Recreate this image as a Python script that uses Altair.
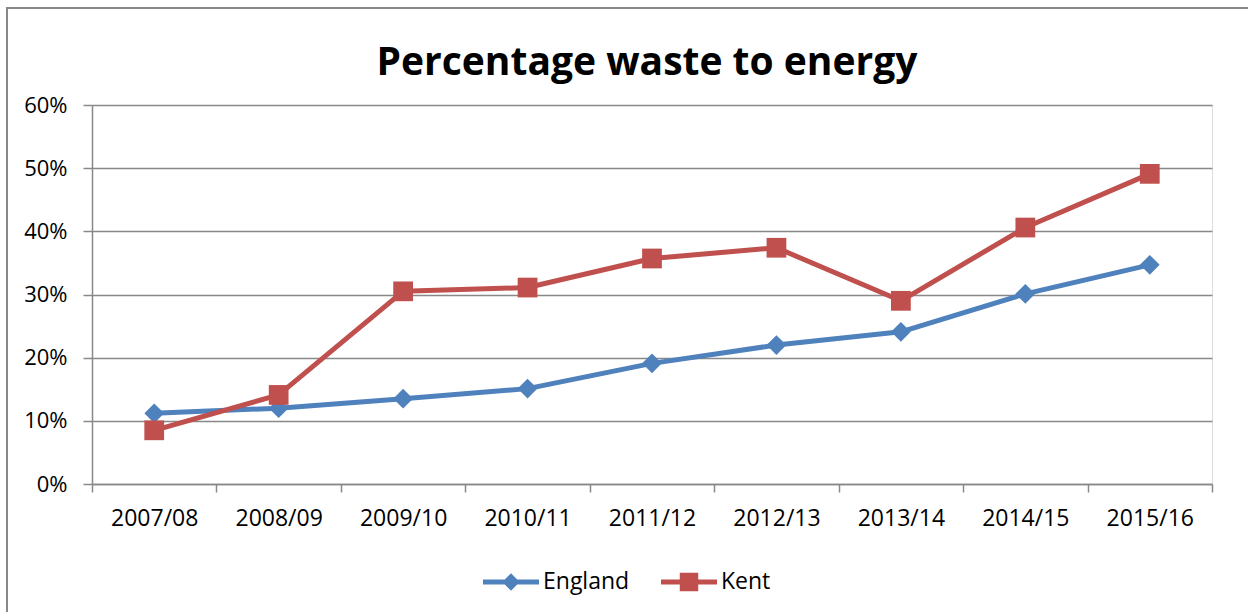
import altair as alt
import pandas as pd

# Financial years on the category axis
years = ["2007/08", "2008/09", "2009/10", "2010/11", "2011/12",
         "2012/13", "2013/14", "2014/15", "2015/16"]

# Share of municipal waste sent to energy recovery (fraction)
england = [0.112, 0.120, 0.135, 0.151, 0.191, 0.220, 0.241, 0.301, 0.347]
kent = [0.085, 0.141, 0.305, 0.311, 0.357, 0.374, 0.290, 0.406, 0.491]

series_names = ["England", "Kent"]
series_colors = ["#4F81BD", "#C0504D"]

FONT = "Open Sans"
GRID = "#888888"

df = pd.DataFrame({
    "year": years * 2,
    "series": ["England"] * len(years) + ["Kent"] * len(years),
    "value": england + kent,
})

is_england = "datum.series === 'England'"

x_enc = alt.X(
    "year:N",
    sort=years,
    scale=alt.Scale(type="band", paddingInner=0, paddingOuter=0),
    axis=alt.Axis(
        title=None, labelAngle=0, tickBand="extent", tickSize=8,
        tickColor=GRID, tickWidth=1.5, domainColor=GRID, domainWidth=1.5,
        labelFont=FONT, labelFontSize=23, labelColor="black",
        labelPadding=15, grid=False,
    ),
)
y_enc = alt.Y(
    "value:Q",
    scale=alt.Scale(domain=[0, 0.6], nice=False, zero=True),
    axis=alt.Axis(
        title=None, values=[0, 0.1, 0.2, 0.3, 0.4, 0.5, 0.6], format=".0%",
        grid=True, gridColor=GRID, gridWidth=1.5, tickSize=9,
        tickColor=GRID, tickWidth=1.5, domainColor=GRID, domainWidth=1.5,
        labelFont=FONT, labelFontSize=22, labelColor="black", labelPadding=16,
    ),
)

base = alt.Chart(df)

lines = base.mark_line(strokeWidth=5, strokeJoin="round", strokeCap="round").encode(
    x=x_enc,
    y=y_enc,
    detail="series:N",
    color=alt.condition(is_england, alt.value(series_colors[0]), alt.value(series_colors[1])),
)

markers = base.mark_point(filled=True, opacity=1, size=390).encode(
    x=x_enc,
    y=y_enc,
    shape=alt.condition(is_england, alt.value("diamond"), alt.value("square")),
    color=alt.condition(is_england, alt.value(series_colors[0]), alt.value(series_colors[1])),
)

# Legend glyphs: a line segment with the series marker on it
england_glyph = ("M-1,-0.09 L1,-0.09 L1,0.09 L-1,0.09 Z "
                 "M0,-0.31 L0.31,0 L0,0.31 L-0.31,0 Z")
kent_glyph = ("M-1,-0.09 L1,-0.09 L1,0.09 L-1,0.09 Z "
              "M-0.33,-0.33 L0.33,-0.33 L0.33,0.33 L-0.33,0.33 Z")

legend_layer = base.transform_filter("false").mark_point(
    filled=True, opacity=1, size=3136, strokeWidth=0
).encode(
    color=alt.Color(
        "series:N",
        scale=alt.Scale(domain=series_names, range=series_colors),
        legend=alt.Legend(
            title=None, orient="none", direction="horizontal",
            legendX=391, legendY=449, symbolSize=3136, symbolStrokeWidth=0,
            symbolOpacity=1, labelFont=FONT, labelFontSize=23,
            labelColor="black", labelOffset=4, columnPadding=31, padding=0,
        ),
    ),
    shape=alt.Shape(
        "series:N",
        scale=alt.Scale(domain=series_names, range=[england_glyph, kent_glyph]),
    ),
)

# Outer frame of the chart
frame = alt.Chart(pd.DataFrame({"k": [0]})).mark_rect(
    fill=None, stroke=GRID, strokeWidth=2
).encode(
    x=alt.value(-85), x2=alt.value(1170),
    y=alt.value(-97), y2=alt.value(520),
)

chart = alt.layer(frame, lines, markers, legend_layer).properties(
    width=1120,
    height=379,
    title=alt.Title(
        "Percentage waste to energy", font=FONT, fontSize=39,
        fontWeight="bold", color="black", anchor="middle", frame="group",
        baseline="alphabetic", offset=0, dx=-5, dy=107,
    ),
    autosize=alt.AutoSizeParams(type="none"),
    padding={"left": 92, "top": 105, "right": 36, "bottom": 128},
).configure_view(stroke=None).configure(font=FONT, background="white")

chart.save("out.html", embed_options={"renderer": "svg", "actions": False})
